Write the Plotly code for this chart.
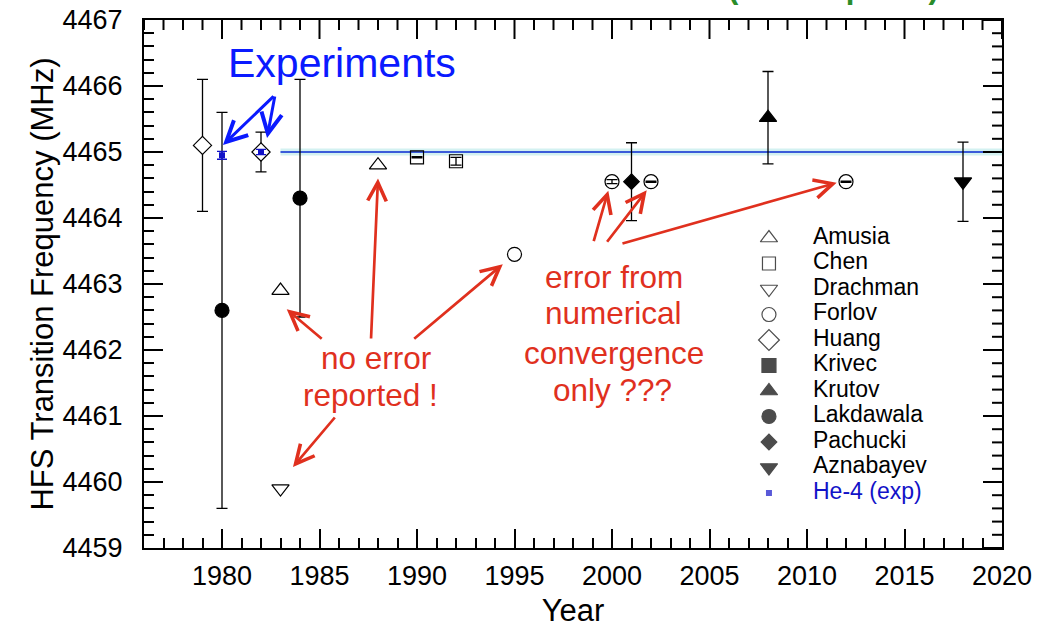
import numpy as np
import plotly.graph_objects as go

FONT = "Liberation Sans, Arial, Helvetica, sans-serif"

# ---------------- data ----------------
amusia_year = [1983, 1988]
amusia_val = [4462.90, 4464.80]

chen_year = [1990, 1992]
chen_val = [4464.92, 4464.86]
chen_err = [0.01, 0.06]

drachman_year = [1983]
drachman_val = [4459.90]

forlov_year = [1995, 2000, 2002, 2012]
forlov_val = [4463.45, 4464.55, 4464.55, 4464.55]
forlov_err = [None, 0.03, 0.01, 0.01]

huang_year = [1979, 1982]
huang_val = [4465.10, 4465.00]
huang_err = [1.00, 0.30]

krivec_year = []
krivec_val = []

krutov_year = [2008]
krutov_val = [4465.52]
krutov_err = [0.70]

lakdawala_year = [1980, 1984]
lakdawala_val = [4462.60, 4464.30]
lakdawala_err = [3.00, 1.80]

pachucki_year = [2001]
pachucki_val = [4464.55]
pachucki_err = [0.59]

aznabayev_year = [2018]
aznabayev_val = [4464.55]
aznabayev_err = [0.60]

exp_year = [1980, 1982]
exp_val = [4464.95, 4465.00]
exp_err = [0.06, 0.04]

ref_year = [1983, 2020]
ref_val = [4465.00, 4465.00]

series_names = ["Amusia", "Chen", "Drachman", "Forlov", "Huang", "Krivec",
                "Krutov", "Lakdawala", "Pachucki", "Aznabayev", "He-4 (exp)"]

x_ticks = [1980, 1985, 1990, 1995, 2000, 2005, 2010, 2015, 2020]
y_ticks = [4459, 4460, 4461, 4462, 4463, 4464, 4465, 4466, 4467]

# ---------------- styles ----------------
BLACK = "black"
BLUE = "#1212c8"
RED = "#e0301e"
styles = {
    "Amusia": dict(symbol="triangle-up-open", size=15, color=BLACK),
    "Chen": dict(symbol="square-open", size=13, color=BLACK),
    "Drachman": dict(symbol="triangle-down-open", size=15, color=BLACK),
    "Forlov": dict(symbol="circle-open", size=14, color=BLACK),
    "Huang": dict(symbol="diamond", size=14, color="white"),
    "Krivec": dict(symbol="square", size=14, color=BLACK),
    "Krutov": dict(symbol="triangle-up", size=15, color=BLACK),
    "Lakdawala": dict(symbol="circle", size=14, color=BLACK),
    "Pachucki": dict(symbol="diamond", size=12, color=BLACK),
    "Aznabayev": dict(symbol="triangle-down", size=15, color=BLACK),
    "He-4 (exp)": dict(symbol="square", size=6, color=BLUE),
}

series = [
    ("Amusia", amusia_year, amusia_val, None),
    ("Chen", chen_year, chen_val, chen_err),
    ("Drachman", drachman_year, drachman_val, None),
    ("Forlov", forlov_year, forlov_val, forlov_err),
    ("Huang", huang_year, huang_val, huang_err),
    ("Krivec", krivec_year, krivec_val, None),
    ("Krutov", krutov_year, krutov_val, krutov_err),
    ("Lakdawala", lakdawala_year, lakdawala_val, lakdawala_err),
    ("Pachucki", pachucki_year, pachucki_val, pachucki_err),
    ("Aznabayev", aznabayev_year, aznabayev_val, aznabayev_err),
]


def marker_of(name):
    st = styles[name]
    is_exp = name == "He-4 (exp)"
    return dict(symbol=st["symbol"], size=st["size"], color=st["color"],
                line=dict(color=BLUE if is_exp else BLACK, width=0 if is_exp else 1.2))


fig = go.Figure()

# reference band + experimental line
fig.add_trace(go.Scatter(x=ref_year, y=ref_val, mode="lines", cliponaxis=False,
                         line=dict(color="#d3f1f1", width=7), hoverinfo="skip",
                         showlegend=False))
fig.add_trace(go.Scatter(x=ref_year, y=ref_val, mode="lines",
                         line=dict(color="#3b5bd9", width=2.2), hoverinfo="skip",
                         showlegend=False))

for name, xs, ys, err in series:
    eb = None
    if err is not None:
        eb = dict(type="data", array=np.array(err, dtype=float), visible=True,
                  color=BLACK, thickness=1.3, width=5.5)
    fig.add_trace(go.Scatter(x=xs, y=ys, mode="markers", name=name,
                             marker=marker_of(name), error_y=eb,
                             showlegend=False))

fig.add_trace(go.Scatter(x=exp_year, y=exp_val, mode="markers", name="He-4 (exp)",
                         marker=marker_of("He-4 (exp)"),
                         error_y=dict(type="data", array=exp_err, color=BLUE,
                                      thickness=1.3, width=5),
                         showlegend=False))

# ---- in-plot legend, drawn on a hidden helper axis (row index) ----
rows = list(range(len(series_names)))
fig.add_trace(go.Scatter(
    x=[0] * len(series_names), y=rows, mode="markers", xaxis="x2", yaxis="y2",
    cliponaxis=False, hoverinfo="skip", showlegend=False,
    marker=dict(symbol=[styles[n]["symbol"] for n in series_names],
                size=[styles[n]["size"] + (2 if n == "Huang" else 0) for n in series_names],
                color=[styles[n]["color"] for n in series_names],
                line=dict(color=[BLUE if n == "He-4 (exp)" else BLACK for n in series_names],
                          width=[0 if n == "He-4 (exp)" else 1.2 for n in series_names]))))
fig.add_trace(go.Scatter(
    x=[1] * len(series_names), y=rows, mode="text", xaxis="x2", yaxis="y2",
    cliponaxis=False, hoverinfo="skip", showlegend=False,
    text=series_names, textposition="middle right",
    textfont=dict(family=FONT, size=23,
                  color=[BLUE if n == "He-4 (exp)" else BLACK for n in series_names])))

axis_common = dict(showline=True, linewidth=2, linecolor=BLACK, mirror=True,
                   ticks="inside", ticklen=19, tickwidth=2, tickcolor=BLACK,
                   showgrid=False, zeroline=False,
                   tickfont=dict(family=FONT, size=27, color=BLACK))

PLOT_W = 1044 - 144 - 42
PLOT_H = 631 - 20 - 83
MAJOR_LEN, MINOR_LEN = 19, 10

fig.update_layout(
    width=1044, height=631,
    margin=dict(l=144, r=42, t=20, b=83, autoexpand=False),
    plot_bgcolor="white", paper_bgcolor="white",
    font=dict(family=FONT, color=BLACK),
    showlegend=False,
    xaxis=dict(range=[1976, 2020], tickvals=x_ticks, ticklabelstandoff=3,
               minor=dict(dtick=1, tick0=1976, ticks="inside", ticklen=MINOR_LEN, tickwidth=2,
                          tickcolor=BLACK, showgrid=False),
               title=dict(text="Year", font=dict(family=FONT, size=31), standoff=9),
               **axis_common),
    yaxis=dict(range=[4459, 4467], tickvals=y_ticks, ticklabelstandoff=14,
               minor=dict(dtick=0.2, tick0=4459, ticks="inside", ticklen=MINOR_LEN, tickwidth=2,
                          tickcolor=BLACK, showgrid=False),
               title=dict(text="HFS Transition Frequency (MHz)",
                          font=dict(family=FONT, size=31), standoff=0),
               **axis_common),
    xaxis2=dict(domain=[0.7284, 0.7797], range=[0, 1], visible=False, anchor="y2"),
    yaxis2=dict(domain=[0.1042, 0.5871], range=[10, 0], visible=False, anchor="x2"),
)

# ---- mirrored tick marks on the top and right frame edges (from the tick lists) ----
shapes = []
for yr in range(x_ticks[0] - 4, x_ticks[-1] + 1):
    ln = MAJOR_LEN if yr in x_ticks else MINOR_LEN
    shapes.append(dict(type="line", xref="x", yref="y domain", x0=yr, x1=yr,
                       y0=1, y1=1 - ln / PLOT_H, line=dict(color=BLACK, width=2)))
for k in range(0, 41):
    v = y_ticks[0] + k * 0.2
    ln = MAJOR_LEN if k % 5 == 0 else MINOR_LEN
    shapes.append(dict(type="line", xref="x domain", yref="y", x0=1, x1=1 - ln / PLOT_W,
                       y0=v, y1=v, line=dict(color=BLACK, width=2)))
fig.update_layout(shapes=shapes)

# ---- annotations ----
ann = []


def arrow(tail, head, color, width):
    ann.append(dict(x=head[0], y=head[1], ax=tail[0], ay=tail[1],
                    xref="x", yref="y", axref="x", ayref="y", text="",
                    showarrow=True, arrowhead=5, arrowsize=1.35, arrowwidth=width,
                    arrowcolor=color, standoff=0, startstandoff=0))


def label(txt, x, y, color, size):
    ann.append(dict(x=x, y=y, xref="x", yref="y", text=txt, showarrow=False,
                    font=dict(family=FONT, size=size, color=color),
                    xanchor="center", yanchor="middle"))


label("Experiments", 1986.15, 4466.35, "#0a1aff", 41)
arrow((1982.72, 4465.864), (1980.05, 4465.106), "#0a1aff", 3)
arrow((1982.72, 4465.864), (1982.31, 4465.212), "#0a1aff", 3)

label("no error", 1987.90, 4461.88, RED, 31.5)
label("reported !", 1987.59, 4461.32, RED, 31.5)
arrow((1987.64, 4462.152), (1988.00, 4464.60), RED, 2.7)
arrow((1985.19, 4462.152), (1983.32, 4462.617), RED, 2.7)
arrow((1989.78, 4462.152), (1994.40, 4463.30), RED, 2.7)
arrow((1985.85, 4461.00), (1983.64, 4460.227), RED, 2.7)

label("error from", 2000.08, 4463.11, RED, 31.5)
label("numerical", 2000.10, 4462.56, RED, 31.5)
label("convergence", 2000.09, 4461.955, RED, 31.5)
label("only ???", 2000.05, 4461.39, RED, 31.5)
arrow((1999.04, 4463.626), (1999.81, 4464.414), RED, 2.7)
arrow((1999.69, 4463.617), (2001.78, 4464.42), RED, 2.7)
arrow((2000.46, 4463.606), (2011.52, 4464.535), RED, 2.7)

# green heading, mostly above the visible page (only its lowest part shows)
ann.append(dict(x=0.8036, y=1.066, xref="paper", yref="paper",
                text="<b>(<sup>3</sup>He<sup>+</sup> exp. hfs)</b>", showarrow=False,
                font=dict(family=FONT, size=31, color="#2a8c2a"),
                xanchor="center", yanchor="middle"))

fig.update_layout(annotations=ann)

fig.write_html("out.html")
